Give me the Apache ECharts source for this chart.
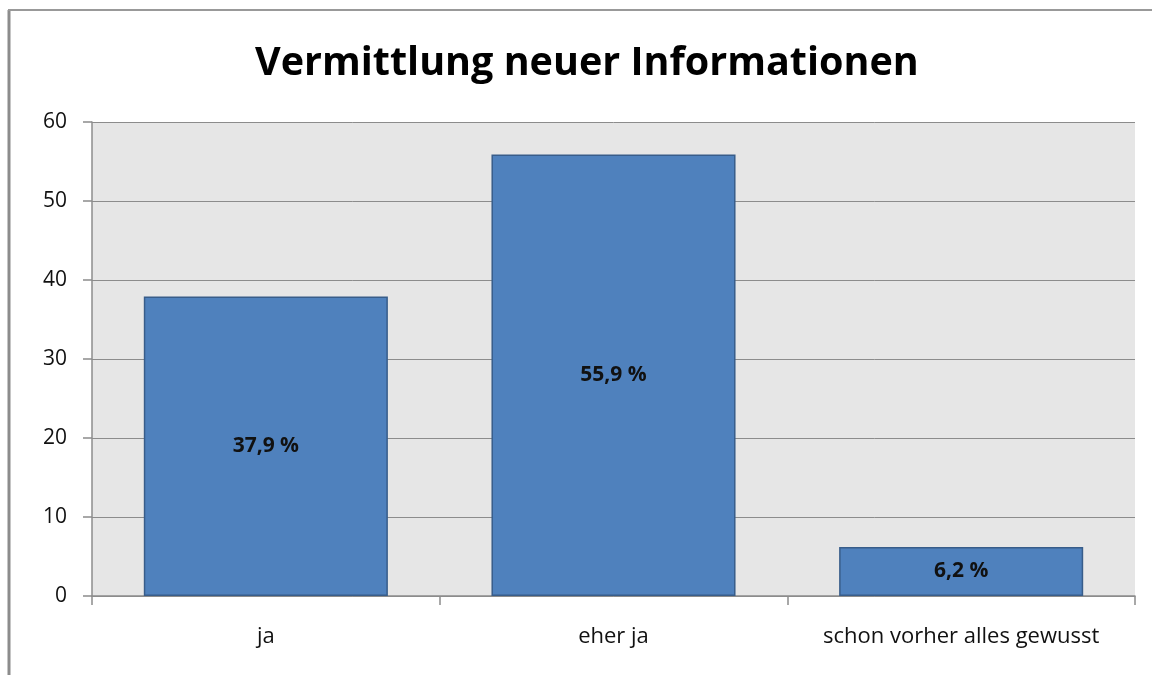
<!DOCTYPE html>
<html><head><meta charset="utf-8">
<script src="https://cdn.jsdelivr.net/npm/echarts@6/dist/echarts.min.js"></script>
<style>html,body{margin:0;padding:0;background:#fff}#c{width:1152px;height:675px}</style>
</head><body><div id="c"></div>
<script>
const categories = ['ja', 'eher ja', 'schon vorher alles gewusst'];
const values = [37.9, 55.9, 6.2];
const yTicks = [0, 10, 20, 30, 40, 50, 60];
const title = 'Vermittlung neuer Informationen';

const chart = echarts.init(document.getElementById('c'));
chart.setOption({
  animation: false,
  backgroundColor: '#fff',
  title: {
    text: title, left: 250, top: 39,
    textStyle: {fontFamily: 'Open Sans', fontSize: 39.5, fontWeight: 'bold', color: '#000'}
  },
  graphic: [
    {type: 'line', shape: {x1: 9, y1: 10, x2: 9, y2: 675}, style: {stroke: '#8c8c8c', lineWidth: 3}},
    {type: 'line', shape: {x1: 8, y1: 10, x2: 1152, y2: 10}, style: {stroke: '#999', lineWidth: 2}}
  ],
  grid: {left: 92, right: 17, top: 122, bottom: 79, show: true, backgroundColor: '#e6e6e6', borderWidth: 0},
  xAxis: {
    type: 'category', data: categories,
    axisLine: {lineStyle: {color: '#8c8c8c', width: 1.5}},
    axisTick: {show: true, interval: 0, length: 9, lineStyle: {color: '#8c8c8c', width: 1.5}},
    axisLabel: {interval: 0, hideOverlap: false, margin: 30, fontFamily: 'Open Sans', fontSize: 22, color: '#111'}
  },
  yAxis: {
    type: 'value', min: yTicks[0], max: yTicks[yTicks.length - 1], interval: 10,
    axisLine: {show: true, lineStyle: {color: '#8c8c8c', width: 1.5}},
    axisTick: {show: true, length: 9, lineStyle: {color: '#8c8c8c', width: 1.5}},
    splitLine: {lineStyle: {color: '#8c8c8c', width: 1}},
    axisLabel: {margin: 25, fontFamily: 'Open Sans', fontSize: 21, color: '#111'}
  },
  series: [{
    type: 'bar', data: values, barWidth: '70.2%',
    itemStyle: {color: '#4f81bd', borderColor: '#385d8a', borderWidth: 1.5},
    label: {
      show: true, position: 'inside',
      formatter: p => String(p.value).replace('.', ',') + ' %',
      fontFamily: 'Open Sans', fontSize: 21, fontWeight: 'bold', color: '#111'
    }
  }]
});
</script></body></html>
